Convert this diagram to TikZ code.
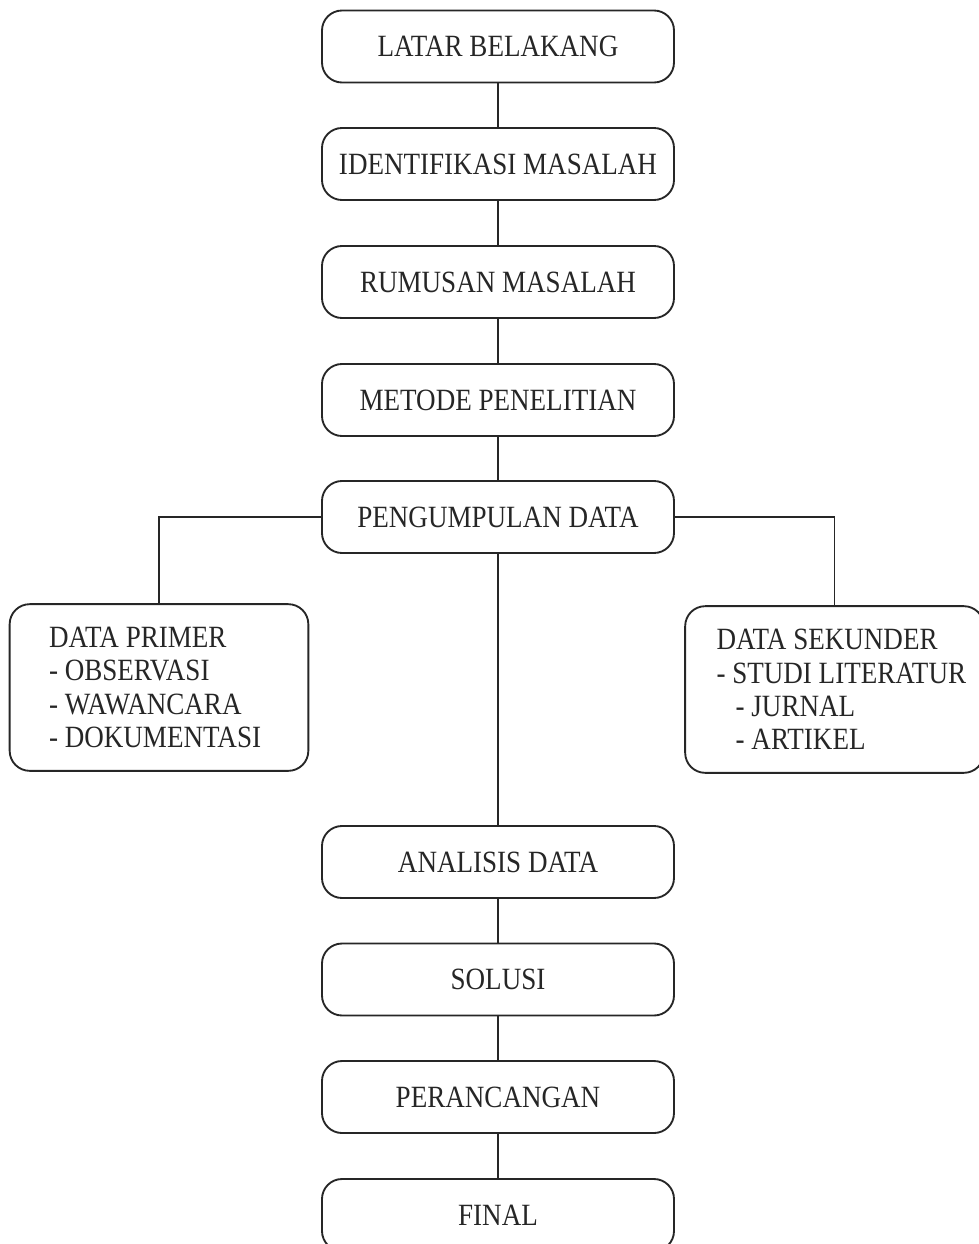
\documentclass[tikz,border=0pt]{standalone}
\usepackage{fontspec}
\setmainfont{Liberation Serif}[FakeStretch=0.875]
\begin{document}
\begin{tikzpicture}[x=0.75pt,y=-0.75pt,
  every node/.style={font=\fontsize{23.2}{25.1}\selectfont, text=black!85},
  mainbox/.style={draw=black!85, line width=1.4pt, rounded corners=15pt,
    minimum width=264pt, minimum height=54pt, inner sep=0pt},
  sidebox/.style={draw=black!85, line width=1.4pt, rounded corners=15pt,
    minimum width=224pt, minimum height=125pt, inner sep=0pt},
  sidetext/.style={anchor=west, align=left, inner sep=0pt},
  link/.style={draw=black!85, line width=1.4pt}]
\useasboundingbox (0,0) rectangle (978,1244);
\node[mainbox] (lb) at (498,46.5) {LATAR BELAKANG};
\node[mainbox] (im) at (498,164) {IDENTIFIKASI MASALAH};
\node[mainbox] (rm) at (498,282) {RUMUSAN MASALAH};
\node[mainbox] (mp) at (498,400) {METODE PENELITIAN};
\node[mainbox] (pd) at (498,517) {PENGUMPULAN DATA};
\node[sidebox] (dp) at (159,687.5) {};
\node[sidetext] (dpt) at ([xshift=30pt]dp.west) {DATA PRIMER\\- OBSERVASI\\- WAWANCARA\\- DOKUMENTASI};
\node[sidebox] (ds) at (834.5,689.5) {};
\node[sidetext] (dst) at ([xshift=24pt]ds.west) {DATA SEKUNDER\\- STUDI LITERATUR\\\hspace*{0.62em}- JURNAL\\\hspace*{0.62em}- ARTIKEL};
\node[mainbox] (ad) at (498,862) {ANALISIS DATA};
\node[mainbox] (so) at (498,979.5) {SOLUSI};
\node[mainbox] (pr) at (498,1097) {PERANCANGAN};
\node[mainbox] (fi) at (498,1215) {FINAL};
\draw[link] (lb) -- (im);
\draw[link] (im) -- (rm);
\draw[link] (rm) -- (mp);
\draw[link] (mp) -- (pd);
\draw[link] (pd.west) -| (dp.north);
\draw[link] (pd.east) -| (ds.north);
\draw[link] (pd) -- (ad);
\draw[link] (ad) -- (so);
\draw[link] (so) -- (pr);
\draw[link] (pr) -- (fi);
\end{tikzpicture}
\end{document}
